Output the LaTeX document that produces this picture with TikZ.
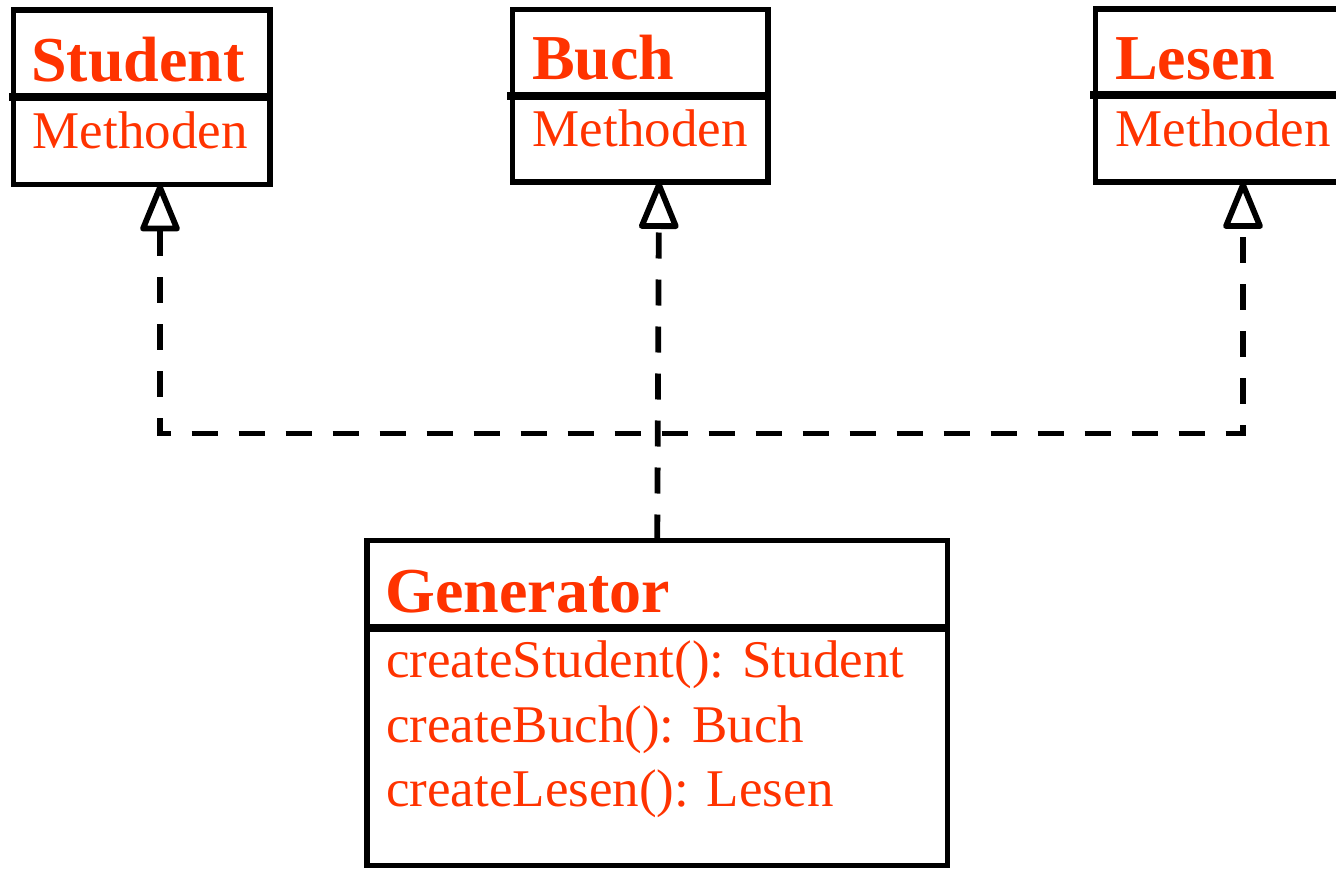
\documentclass[tikz,border=0pt]{standalone}
\usepackage{fontspec}
\setmainfont{Liberation Serif}
\usetikzlibrary{arrows.meta}
\definecolor{umlred}{HTML}{FF3300}
\begin{document}
\begin{tikzpicture}[x=1pt,y=-1pt,
  >={Triangle[open,length=52pt,width=41pt,round]},
  box/.style={draw, line width=5.5pt, rectangle, inner sep=0pt, outer sep=0pt, anchor=north west},
  divider/.style={line width=8pt},
  title/.style={text=umlred, font=\fontsize{64}{70}\selectfont\bfseries, inner sep=0pt, anchor=base west},
  meth/.style={text=umlred, font=\fontsize{53}{60}\selectfont, inner sep=0pt, anchor=base west},
  dep/.style={line width=5.8pt, dash pattern=on 26pt off 21pt}]
\useasboundingbox (0,0) rectangle (1336,869);
\clip (0,0) rectangle (1336,869);
% boxes
\node[box, minimum width=256.5pt, minimum height=174.5pt] (stu) at (13.5,10) {};
\node[box, minimum width=255.5pt, minimum height=172.5pt] (buch) at (512.5,9.5) {};
\node[box, minimum width=400pt, minimum height=173pt] (les) at (1095.5,9) {};
\node[box, minimum width=580.5pt, minimum height=325pt] (gen) at (367,540.5) {};
% dividers
\draw[divider] ([xshift=-4.5pt]stu.west |- 0,97) -- ([xshift=2.75pt]stu.east |- 0,97);
\draw[divider] ([xshift=-5.5pt]buch.west |- 0,95.7) -- ([xshift=2.75pt]buch.east |- 0,95.7);
\draw[divider] ([xshift=-5.5pt]les.west |- 0,95.5) -- ([xshift=2.75pt]les.east |- 0,95.5);
\draw[divider] ([xshift=-2.75pt]gen.west |- 0,627.5) -- ([xshift=2.75pt]gen.east |- 0,627.5);
% texts
\node[title] (stuT) at (31,81.7) {Student};
\node[meth] (stuM) at (32.5,148.3) {Methoden};
\node[title] (buchT) at (532,80) {Buch};
\node[meth] (buchM) at (532.5,146.7) {Methoden};
\node[title] (lesT) at (1115,80) {Lesen};
\node[meth] (lesM) at (1115.5,146.7) {Methoden};
\node[title] (genT) at (385.5,612) {Generator};
\node[meth] (genM1) at (386,677) {createStudent(): Student};
\node[meth] (genM2) at (386,742) {createBuch(): Buch};
\node[meth] (genM3) at (386,806) {createLesen(): Lesen};
% connectors
\coordinate (stuTip) at (160,184.5);
\coordinate (buchTip) at (659,182);
\coordinate (lesTip) at (1243,182);
\coordinate (bus) at (0,433.5);
\draw[dep,->] (gen.north) -- (buchTip);
\draw[dep,<->] (stuTip) -- (stuTip |- bus) -- (lesTip |- bus) -- (lesTip);
\end{tikzpicture}
\end{document}
